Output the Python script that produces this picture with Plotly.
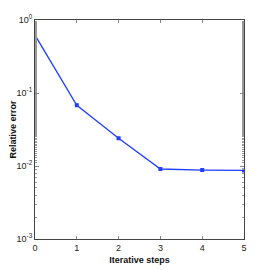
import plotly.graph_objects as go

steps = [0, 1, 2, 3, 4, 5]
rel_error = [0.62, 0.068, 0.024, 0.0091, 0.0088, 0.0087]
ytick_vals = [1, 0.1, 0.01, 0.001]
ytick_text = ["10<sup>0</sup>", "10<sup>-1</sup>", "10<sup>-2</sup>", "10<sup>-3</sup>"]

fig = go.Figure()
fig.add_trace(go.Scatter(
    x=steps, y=rel_error, mode="lines+markers",
    line=dict(color="#1f3dff", width=1.3),
    marker=dict(color="#1f3dff", size=4, symbol="square"),
    showlegend=False,
))

# page body has an 8px default margin, so the figure is drawn at (8, 8)
fig.update_layout(
    width=262, height=262,
    margin=dict(l=27, r=26, t=12, b=31),
    paper_bgcolor="white", plot_bgcolor="white",
    font=dict(family="Liberation Sans Narrow, Arial Narrow, Liberation Sans, sans-serif", size=9, color="#222"),
)
fig.update_xaxes(
    range=[0, 5], tickvals=steps, ticks="inside", ticklen=3, tickcolor="#888",
    showline=True, linecolor="#444", linewidth=1, mirror="ticks",
    showgrid=False, zeroline=False, automargin=False,
    title=dict(text="<b>Iterative steps</b>", standoff=4,
               font=dict(family="Liberation Sans, Arial, sans-serif", size=9, color="#111")),
)
fig.update_yaxes(
    type="log", range=[-3, 0], tickvals=ytick_vals, ticktext=ytick_text,
    ticks="inside", ticklen=4, tickcolor="#888",
    minor=dict(ticks="inside", ticklen=2, tickcolor="#999", showgrid=False),
    showline=True, linecolor="#444", linewidth=1, mirror="ticks",
    showgrid=False, zeroline=False, automargin=False,
    title=dict(text="<b>Relative error</b>", standoff=3,
               font=dict(family="Liberation Sans, Arial, sans-serif", size=9, color="#111")),
)

fig.write_html("out.html")
